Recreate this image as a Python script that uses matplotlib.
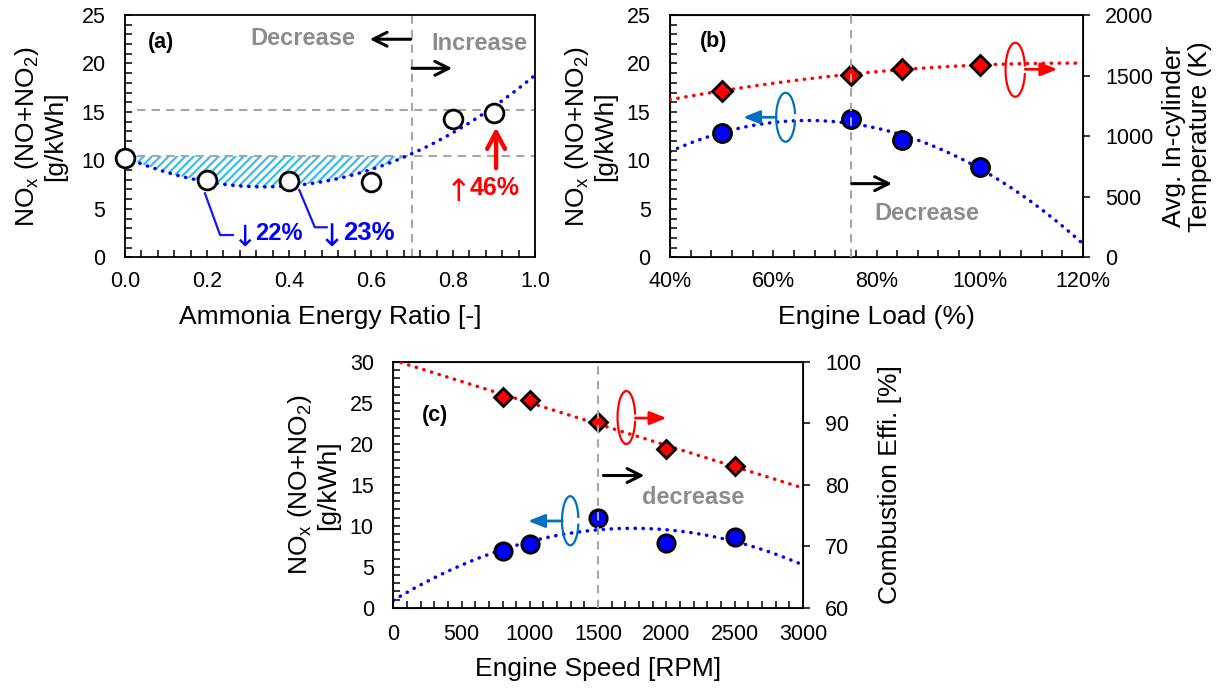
import numpy as np
import matplotlib
matplotlib.use('Agg')
import matplotlib.pyplot as plt
from matplotlib.patches import Arc
from matplotlib.ticker import MultipleLocator, FuncFormatter

plt.rcParams['font.family'] = ['Liberation Sans', 'DejaVu Sans']
plt.rcParams['mathtext.fontset'] = 'custom'
plt.rcParams['mathtext.rm'] = 'Liberation Sans'
plt.rcParams['mathtext.bf'] = 'Liberation Sans:bold'
plt.rcParams['hatch.linewidth'] = 1.6

# (a) NOx vs ammonia energy ratio
aer = [0.0, 0.2, 0.4, 0.6, 0.8, 0.9]
nox_a = [10.2, 7.95, 7.85, 7.75, 14.3, 14.9]
ref_low = 10.45
ref_high = 15.25

# (b) NOx and in-cylinder temperature vs engine load
load = [0.50, 0.75, 0.85, 1.00]
nox_b = [12.8, 14.25, 12.1, 9.3]
temp_b = [1375, 1505, 1558, 1585]

# (c) NOx and combustion efficiency vs engine speed
rpm = [800, 1000, 1500, 2000, 2500]
nox_c = [6.93, 7.82, 10.98, 7.94, 8.63]
eff_c = [94.3, 93.8, 90.3, 85.85, 83.15]

TICK = 15.5
LAB = 19
GRAY = '#8c8c8c'
DASHC = '#a6a6a6'
EBLUE = '#0070c0'
DOT = dict(ls=(0, (0.1, 2.2)), lw=2.5, dash_capstyle='round')
DASH = dict(color=DASHC, ls=(0, (4, 3)), lw=1.5)
NOX_LABEL = r'NO$_\mathregular{x}$ (NO+NO$_\mathregular{2}$)' + '\n[g/kWh]'

fig = plt.figure(figsize=(12.24, 6.88), dpi=100)


def style(ax, xpad):
    ax.tick_params(which='both', direction='in', length=5, width=1.1,
                   top=False, right=False, labelsize=TICK)
    ax.tick_params(axis='y', which='both', pad=14)
    ax.tick_params(axis='x', which='both', pad=xpad)
    for s in ax.spines.values():
        s.set_linewidth(1.3)


def right_style(ax2):
    ax2.tick_params(axis='y', which='major', direction='out', length=5,
                    width=1.1, labelsize=TICK, pad=11)
    ax2.tick_params(axis='y', which='minor', length=0)


def arrow(ax, tail, head, color='black', lw=2.2, style='->,head_length=0.5,head_width=0.25',
          coords='data'):
    ax.annotate('', xy=head, xytext=tail, xycoords=coords, textcoords=coords,
                arrowprops=dict(arrowstyle=style, color=color, lw=lw,
                                shrinkA=0, shrinkB=0, mutation_scale=20),
                zorder=8)


def ring(ax, cx, cy, w, h, color):
    ax.add_patch(Arc((cx, cy), w, h, theta1=30, theta2=330, transform=ax.transAxes,
                     color=color, lw=1.6, zorder=8))


def pct(ax, x, y, sign, num, size, color):
    # thin arrow glyph followed by the bold percentage
    ax.text(x, y, num, fontsize=size, fontweight='bold', color=color, zorder=8)
    ax.annotate(sign, xy=(x, y), xytext=(1, -4), textcoords='offset points',
                ha='right', va='baseline', fontsize=size + 4, color=color,
                family='DejaVu Sans', zorder=8)


# ---------- (a) ----------
ax_a = fig.add_axes([0.1021, 0.626, 0.335, 0.3522])
style(ax_a, 10)
xx = np.linspace(0, 1, 300)
fit_a = np.polyval(np.polyfit(aer, nox_a, 2), xx)
under = (fit_a <= ref_low) & (xx < 0.8)
ax_a.fill_between(xx, fit_a, ref_low, where=under, facecolor='white',
                  edgecolor='#3cbcec', hatch='////', linewidth=0, zorder=1)
ax_a.plot([0.03, 1], [ref_low, ref_low], zorder=2, **DASH)
ax_a.plot([0.03, 1], [ref_high, ref_high], zorder=2, **DASH)
ax_a.axvline(0.70, zorder=2, **DASH)
ax_a.plot(xx, fit_a, color='blue', zorder=3, **DOT)
ax_a.plot(aer, nox_a, 'o', ms=13.5, mfc='white', mec='black', mew=2, zorder=5,
          clip_on=False)
ax_a.set_xlim(0, 1)
ax_a.set_ylim(0, 25)
ax_a.xaxis.set_major_locator(MultipleLocator(0.2))
ax_a.xaxis.set_minor_locator(MultipleLocator(0.04))
ax_a.xaxis.set_major_formatter(FuncFormatter(lambda v, p: f'{v:.1f}'))
ax_a.yaxis.set_major_locator(MultipleLocator(5))
ax_a.yaxis.set_minor_locator(MultipleLocator(1))
ax_a.set_xlabel('Ammonia Energy Ratio [-]', fontsize=LAB, labelpad=9)

ax_a.text(0.057, 22.2, '(a)', fontsize=15.5, fontweight='bold', va='center')
ax_a.text(0.434, 22.6, 'Decrease', fontsize=17, fontweight='bold', color=GRAY,
          ha='center', va='center')
ax_a.text(0.864, 22.07, 'Increase', fontsize=17, fontweight='bold', color=GRAY,
          ha='center', va='center')
arrow(ax_a, (0.697, 22.5), (0.597, 22.5))
arrow(ax_a, (0.70, 19.5), (0.798, 19.5))
ax_a.plot([0.195, 0.232, 0.263], [6.6, 2.3, 2.3], color='#1414ff', lw=1.6, zorder=6)
ax_a.plot([0.425, 0.463, 0.492], [6.95, 3.1, 3.1], color='#1414ff', lw=1.6, zorder=6)
pct(ax_a, 0.317, 1.79, '\u2193', '22%', 17, '#0000ff')
pct(ax_a, 0.532, 1.79, '\u2193', '23%', 18.5, '#0000ff')
pct(ax_a, 0.841, 6.43, '\u2191', '46%', 18, '#ff0000')
arrow(ax_a, (0.905, 9.2), (0.905, 13.4), color='#ff0000', lw=3.2,
      style='->,head_length=0.6,head_width=0.32')
fig.text(0.0327, 0.802, NOX_LABEL, fontsize=LAB, rotation=90, ha='center',
         va='center', linespacing=1.1)

# ---------- (b) ----------
ax_b = fig.add_axes([0.5474, 0.626, 0.3374, 0.3522])
ax_b2 = ax_b.twinx()
style(ax_b, 10)
right_style(ax_b2)
xb = np.linspace(0.4, 1.2, 300)
ax_b.plot(xb, np.polyval(np.polyfit(load, nox_b, 2), xb), color='blue', zorder=3, **DOT)
ax_b.plot(load, nox_b, 'o', ms=13, mfc='#0000ff', mec='black', mew=2, zorder=5)
ax_b2.plot(xb, np.polyval(np.polyfit(load, temp_b, 2), xb), color='red', zorder=3, **DOT)
ax_b2.plot(load, temp_b, 'D', ms=10.5, mfc='#ff0000', mec='black', mew=2, zorder=5)
ax_b2.axvline(0.75, zorder=7, **DASH)
ax_b.set_xlim(0.4, 1.2)
ax_b.set_ylim(0, 25)
ax_b2.set_ylim(0, 2000)
ax_b.xaxis.set_major_locator(MultipleLocator(0.2))
ax_b.xaxis.set_minor_locator(MultipleLocator(0.04))
ax_b.xaxis.set_major_formatter(FuncFormatter(lambda v, p: f'{v * 100:.0f}%'))
ax_b.yaxis.set_major_locator(MultipleLocator(5))
ax_b.yaxis.set_minor_locator(MultipleLocator(1))
ax_b2.yaxis.set_major_locator(MultipleLocator(500))
ax_b.set_xlabel('Engine Load (%)', fontsize=LAB, labelpad=9)
ax_b2.text(0.458, 22.25 * 80, '(b)', fontsize=15.5, fontweight='bold', va='center')
arrow(ax_b2, (0.752, 7.6 * 80), (0.83, 7.6 * 80))
ax_b2.text(0.897, 4.52 * 80, 'Decrease', fontsize=17, fontweight='bold', color=GRAY,
           ha='center', va='center')
ring(ax_b2, 0.28, 0.578, 0.046, 0.202, EBLUE)
arrow(ax_b2, (0.257, 0.578), (0.177, 0.578), color=EBLUE, lw=2,
      style='-|>,head_length=0.5,head_width=0.2', coords='axes fraction')
ring(ax_b2, 0.836, 0.774, 0.047, 0.223, '#ff0000')
arrow(ax_b2, (0.86, 0.776), (0.938, 0.776), color='#ff0000', lw=2,
      style='-|>,head_length=0.5,head_width=0.2', coords='axes fraction')
fig.text(0.482, 0.802, NOX_LABEL, fontsize=LAB, rotation=90, ha='center',
         va='center', linespacing=1.1)
fig.text(0.970, 0.802, 'Avg. In-cylinder\nTemperature (K)', fontsize=LAB,
         rotation=90, ha='center', va='center', linespacing=1.1)

# ---------- (c) ----------
ax_c = fig.add_axes([0.3213, 0.1167, 0.3347, 0.3571])
ax_c2 = ax_c.twinx()
style(ax_c, 11.5)
right_style(ax_c2)
xc = np.linspace(0, 3000, 300)
ax_c.plot(xc, np.polyval(np.polyfit(rpm, nox_c, 2), xc), color='blue', zorder=3, **DOT)
ax_c.plot(rpm, nox_c, 'o', ms=12.5, mfc='#0000ff', mec='black', mew=2, zorder=5)
ax_c2.plot(xc, np.polyval(np.polyfit(rpm, eff_c, 1), xc), color='red', zorder=3, **DOT)
ax_c2.plot(rpm, eff_c, 'D', ms=9.5, mfc='#ff0000', mec='black', mew=2, zorder=5)
ax_c2.axvline(1500, zorder=7, **DASH)
ax_c.set_xlim(0, 3000)
ax_c.set_ylim(0, 30)
ax_c2.set_ylim(60, 100)
ax_c.xaxis.set_major_locator(MultipleLocator(500))
ax_c.xaxis.set_minor_locator(MultipleLocator(100))
ax_c.yaxis.set_major_locator(MultipleLocator(5))
ax_c.yaxis.set_minor_locator(MultipleLocator(1))
ax_c2.yaxis.set_major_locator(MultipleLocator(10))
ax_c.set_xlabel('Engine Speed [RPM]', fontsize=LAB, labelpad=9)
ax_c.text(212, 23.43, '(c)', fontsize=15.5, fontweight='bold', va='center', zorder=8)
arrow(ax_c2, (0.513, 0.538), (0.613, 0.538), coords='axes fraction')
ax_c.text(2197, 13.5, 'decrease', fontsize=17, fontweight='bold', color=GRAY,
          ha='center', va='center')
ring(ax_c2, 0.569, 0.774, 0.043, 0.216, '#ff0000')
arrow(ax_c2, (0.591, 0.772), (0.667, 0.772), color='#ff0000', lw=2,
      style='-|>,head_length=0.5,head_width=0.2', coords='axes fraction')
ring(ax_c2, 0.432, 0.354, 0.040, 0.200, EBLUE)
arrow(ax_c2, (0.412, 0.353), (0.329, 0.353), color=EBLUE, lw=2,
      style='-|>,head_length=0.5,head_width=0.2', coords='axes fraction')
fig.text(0.256, 0.2952, NOX_LABEL, fontsize=LAB, rotation=90, ha='center',
         va='center', linespacing=1.1)
fig.text(0.7275, 0.2952, 'Combustion Effi. [%]', fontsize=LAB, rotation=90,
         ha='center', va='center')

fig.savefig('out.png', dpi=100)
